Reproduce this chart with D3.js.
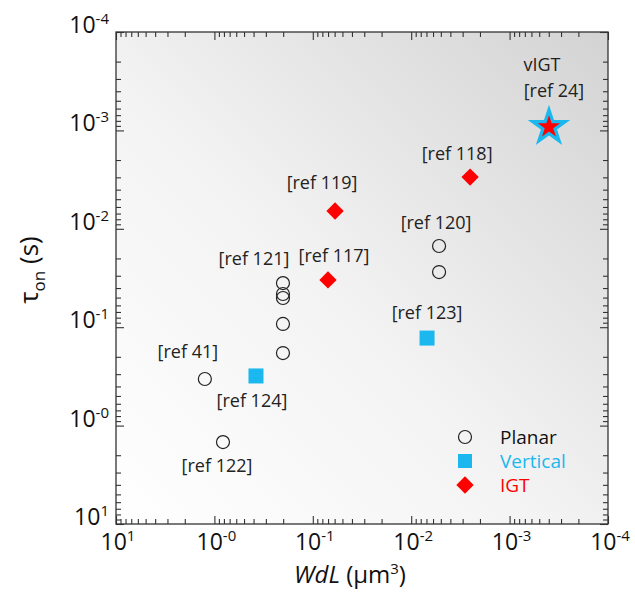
<!DOCTYPE html>
<html><head><meta charset="utf-8">
<script src="https://cdn.jsdelivr.net/npm/d3@7"></script>
<style>html,body{margin:0;padding:0;background:#fff;} svg{display:block;}</style>
</head><body>
<svg id="chart" width="635" height="593"></svg>
<script>
// ---- data (axis values) ----
const planarLabels = ["ref 41","ref 122","ref 121","ref 121","ref 121","ref 121","ref 121","ref 120","ref 120"];
const planarX = [1.25, 0.818, 0.201, 0.201, 0.201, 0.201, 0.201, 0.00521, 0.00521];
const planarY = [0.336, 1.47, 0.0356, 0.046, 0.0505, 0.0927, 0.183, 0.01496, 0.0275];

const verticalLabels = ["ref 124","ref 123"];
const verticalX = [0.378, 0.0069];
const verticalY = [0.313, 0.129];

const igtLabels = ["ref 117","ref 119","ref 118"];
const igtX = [0.0701, 0.0594, 0.00252];
const igtY = [0.0331, 0.00659, 0.00298];

const vigtLabel = "ref 24";
const vigtX = [0.000398];
const vigtY = [0.000923];

// annotation texts with their anchor data points
const annotations = [
  {text:"[ref 41]",  x:1.25,    y:0.336,   dx:-17, dy:-27},
  {text:"[ref 124]", x:0.378,   y:0.313,   dx:-4,  dy:25},
  {text:"[ref 122]", x:0.818,   y:1.47,    dx:-6,  dy:23},
  {text:"[ref 121]", x:0.201,   y:0.0356,  dx:-29, dy:-25},
  {text:"[ref 117]", x:0.0701,  y:0.0331,  dx:6,   dy:-24},
  {text:"[ref 119]", x:0.0594,  y:0.00659, dx:-13, dy:-28},
  {text:"[ref 118]", x:0.00252, y:0.00298, dx:-13, dy:-24},
  {text:"[ref 120]", x:0.00521, y:0.01496, dx:-3,  dy:-24},
  {text:"[ref 123]", x:0.0069,  y:0.129,   dx:0,   dy:-26},
  {text:"vIGT",      x:0.000398,y:0.000923,dx:-7,  dy:-62},
  {text:"[ref 24]",  x:0.000398,y:0.000923,dx:5,   dy:-36}
];

const xTickValues = [1e1, 1e0, 1e-1, 1e-2, 1e-3, 1e-4];
const xTickExps = ["1", "-0", "-1", "-2", "-3", "-4"];
const yTickValues = [1e-4, 1e-3, 1e-2, 1e-1, 1e0, 1e1];
const yTickExps = ["-4", "-3", "-2", "-1", "-0", "1"];

const legendNames = ["Planar", "Vertical", "IGT"];
const legendColors = ["#111111", "#1ab8ee", "#ff0000"];

// ---- layout ----
const L = 116, T = 32, R = 608, B = 524;
const svg = d3.select("#chart");
const font = "'Open Sans', 'Noto Sans', sans-serif";

const x = d3.scaleLog().domain([1e1, 1e-4]).range([L, R]);
const y = d3.scaleLog().domain([1e-4, 1e1]).range([T, B]);

// background gradient
const defs = svg.append("defs");
const grad = defs.append("linearGradient").attr("id", "bg")
  .attr("x1", "0").attr("y1", "1").attr("x2", "1").attr("y2", "0");
grad.append("stop").attr("offset", "0").attr("stop-color", "#ffffff");
grad.append("stop").attr("offset", "0.45").attr("stop-color", "#f3f3f3");
grad.append("stop").attr("offset", "1").attr("stop-color", "#d3d3d3");

svg.append("rect").attr("x", L).attr("y", T).attr("width", R - L).attr("height", B - T)
  .attr("fill", "url(#bg)");

// minor tick values
const minorX = [], minorY = [];
for (let e = -4; e < 1; e++) {
  for (let k = 2; k <= 9; k++) { minorX.push(k * Math.pow(10, e)); minorY.push(k * Math.pow(10, e)); }
}

function drawAxis(gen, tx, ty) {
  const g = svg.append("g").attr("transform", `translate(${tx},${ty})`).call(gen);
  g.select(".domain").remove();
  g.selectAll("text").remove();
  g.selectAll("line").attr("stroke", "#333").attr("stroke-width", 1.1);
  return g;
}
const MJ = 8, MN = 5;
drawAxis(d3.axisBottom(x).tickValues(xTickValues).tickSize(-MJ).tickFormat(""), 0, B);
drawAxis(d3.axisBottom(x).tickValues(minorX).tickSize(-MN).tickFormat(""), 0, B);
drawAxis(d3.axisTop(x).tickValues(xTickValues).tickSize(-MJ).tickFormat(""), 0, T);
drawAxis(d3.axisTop(x).tickValues(minorX).tickSize(-MN).tickFormat(""), 0, T);
drawAxis(d3.axisLeft(y).tickValues(yTickValues).tickSize(-MJ).tickFormat(""), L, 0);
drawAxis(d3.axisLeft(y).tickValues(minorY).tickSize(-MN).tickFormat(""), L, 0);
drawAxis(d3.axisRight(y).tickValues(yTickValues).tickSize(-MJ).tickFormat(""), R, 0);
drawAxis(d3.axisRight(y).tickValues(minorY).tickSize(-MN).tickFormat(""), R, 0);

// frame
svg.append("rect").attr("x", L).attr("y", T).attr("width", R - L).attr("height", B - T)
  .attr("fill", "none").attr("stroke", "#333").attr("stroke-width", 1.3);

// tick labels
const xl = svg.append("g").attr("font-family", font).attr("font-size", 23).attr("fill", "#111");
xTickValues.forEach((v, i) => {
  const t = xl.append("text").attr("x", x(v) + 2).attr("y", 550).attr("text-anchor", "middle");
  t.append("tspan").text("10");
  t.append("tspan").attr("dy", -9).attr("font-size", 15).text(xTickExps[i]);
});
const yl = svg.append("g").attr("font-family", font).attr("font-size", 23).attr("fill", "#111");
yTickValues.forEach((v, i) => {
  const t = yl.append("text").attr("x", 109).attr("y", y(v) + 1).attr("text-anchor", "end");
  t.append("tspan").text("10");
  t.append("tspan").attr("dy", -9).attr("font-size", 15).text(yTickExps[i]);
});

// axis titles
const xt = svg.append("text").attr("x", 350).attr("y", 583).attr("text-anchor", "middle")
  .attr("font-family", font).attr("font-size", 24).attr("fill", "#111");
xt.append("tspan").attr("font-style", "italic").text("WdL");
xt.append("tspan").text(" (μm");
xt.append("tspan").attr("dy", -9).attr("font-size", 15).text("3");
xt.append("tspan").attr("dy", 9).text(")");

const yt = svg.append("text").attr("transform", "translate(38,270) rotate(-90)")
  .attr("text-anchor", "middle").attr("font-family", font).attr("font-size", 26).attr("fill", "#111");
yt.append("tspan").text("τ");
yt.append("tspan").attr("dy", 7).attr("font-size", 17).text("on");
yt.append("tspan").attr("dy", -7).text(" (s)");

// annotations
svg.append("g").selectAll("text").data(annotations).join("text")
  .attr("x", d => x(d.x) + d.dx).attr("y", d => y(d.y) + d.dy + 6.5)
  .attr("text-anchor", "middle").attr("font-family", font).attr("font-size", 18)
  .attr("fill", "#222").text(d => d.text);

// marks
const planar = planarX.map((v, i) => ({x: v, y: planarY[i], label: planarLabels[i]}));
const vertical = verticalX.map((v, i) => ({x: v, y: verticalY[i], label: verticalLabels[i]}));
const igt = igtX.map((v, i) => ({x: v, y: igtY[i], label: igtLabels[i]}));
const vigt = vigtX.map((v, i) => ({x: v, y: vigtY[i], label: vigtLabel}));

svg.append("g").selectAll("circle").data(planar).join("circle")
  .attr("cx", d => x(d.x)).attr("cy", d => y(d.y)).attr("r", 6.5)
  .attr("fill", "none").attr("stroke", "#222").attr("stroke-width", 1.2);

svg.append("g").selectAll("rect").data(vertical).join("rect")
  .attr("x", d => x(d.x) - 7.5).attr("y", d => y(d.y) - 7.5).attr("width", 15).attr("height", 15)
  .attr("fill", legendColors[1]);

const diamond = d3.symbol().type(d3.symbolSquare).size(150);
svg.append("g").selectAll("path").data(igt).join("path")
  .attr("transform", d => `translate(${x(d.x)},${y(d.y)}) rotate(45)`)
  .attr("d", diamond).attr("fill", legendColors[2]);

const starOuter = d3.symbol().type(d3.symbolStar).size(560);
const starInner = d3.symbol().type(d3.symbolStar).size(155);
const sg = svg.append("g").selectAll("g").data(vigt).join("g")
  .attr("transform", d => `translate(${x(d.x)},${y(d.y)})`);
sg.append("path").attr("d", starOuter).attr("fill", legendColors[1]);
sg.append("path").attr("d", starInner).attr("fill", legendColors[2]);

// legend
const lg = svg.append("g").attr("font-family", font).attr("font-size", 19);
const ly = [437, 461, 485];
lg.append("circle").attr("cx", 465).attr("cy", ly[0]).attr("r", 6.5)
  .attr("fill", "none").attr("stroke", "#222").attr("stroke-width", 1.2);
lg.append("rect").attr("x", 458).attr("y", ly[1] - 7).attr("width", 14).attr("height", 14).attr("fill", legendColors[1]);
lg.append("path").attr("transform", `translate(465,${ly[2]}) rotate(45)`).attr("d", diamond).attr("fill", legendColors[2]);
legendNames.forEach((n, i) => {
  lg.append("text").attr("x", 500).attr("y", ly[i] + 7).attr("fill", legendColors[i]).text(n);
});
</script>
</body></html>
